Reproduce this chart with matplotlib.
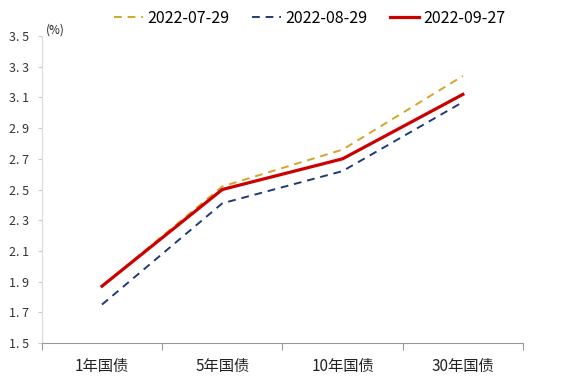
import matplotlib.pyplot as plt

plt.rcParams['font.family'] = ['Noto Sans CJK SC', 'DejaVu Sans']

categories = ["1年国债", "5年国债", "10年国债", "30年国债"]
series_names = ["2022-07-29", "2022-08-29", "2022-09-27"]
yield_0729 = [1.87, 2.52, 2.76, 3.24]
yield_0829 = [1.75, 2.41, 2.62, 3.07]
yield_0927 = [1.87, 2.50, 2.70, 3.12]
y_ticks = [1.5, 1.7, 1.9, 2.1, 2.3, 2.5, 2.7, 2.9, 3.1, 3.3, 3.5]

fig = plt.figure(figsize=(5.66, 3.76), dpi=100)
ax = fig.add_axes([0.074, 0.088, 0.85, 0.816])

x = range(len(categories))
ax.plot(x, yield_0729, color="#D4A52A", lw=1.4, ls=(0, (4, 3)), label=series_names[0])
ax.plot(x, yield_0829, color="#1F3A78", lw=1.4, ls=(0, (4, 3)), label=series_names[1])
ax.plot(x, yield_0927, color="#CC0000", lw=2.3, label=series_names[2])

ax.set_xlim(-0.5, 3.5)
ax.set_ylim(1.5, 3.5)
ax.set_yticks(y_ticks)
ax.set_yticklabels([f"{v:.1f}".replace(".", ". ") for v in y_ticks])
ax.set_xticks([-0.5, 0.5, 1.5, 2.5, 3.5])
ax.set_xticklabels([])
ax.set_xticks(list(x), minor=True)
ax.set_xticklabels(categories, minor=True, fontsize=11, color="#222222")
ax.tick_params(axis='x', which='major', length=5, color="#999999", direction='out')
ax.tick_params(axis='x', which='minor', length=0, pad=11)
ax.tick_params(axis='y', length=3, color="#cccccc", labelsize=9, labelcolor="#333333", pad=6)

for s in ['top', 'right']:
    ax.spines[s].set_visible(False)
ax.spines['left'].set_color("#d9d9d9")
ax.spines['bottom'].set_color("#999999")

ax.text(0.008, 1.0, "(%)", transform=ax.transAxes, fontsize=8.5, va='bottom', ha='left', color="#222222")

ax.legend(loc='lower center', bbox_to_anchor=(0.557, 1.0), ncol=3, frameon=False,
          fontsize=11.5, handlelength=1.8, handletextpad=0.3, columnspacing=1.4,
          borderaxespad=0.2)

fig.savefig("out.png", dpi=100, facecolor="white")
